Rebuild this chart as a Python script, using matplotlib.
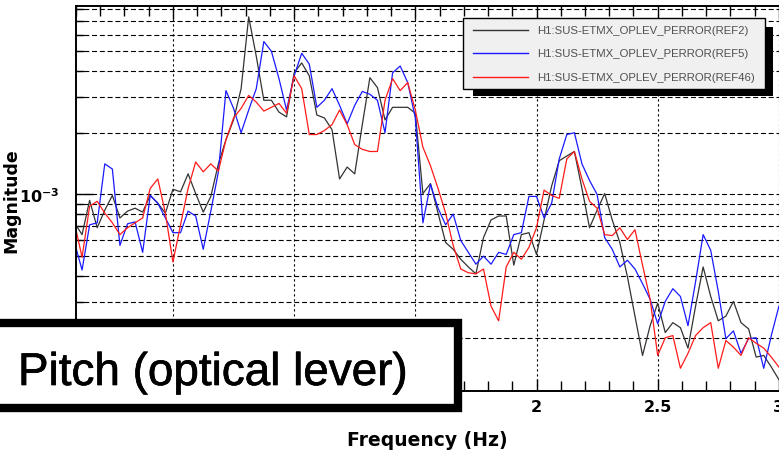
#!/usr/bin/env python3
"""Pitch (optical lever) spectrum, three reference traces, log magnitude."""

import numpy as np
import matplotlib
matplotlib.use("Agg")
import matplotlib.pyplot as plt
import matplotlib.patheffects as pe
from matplotlib.patches import Rectangle
from matplotlib.lines import Line2D
from matplotlib.ticker import MultipleLocator, LogLocator, NullFormatter

# frequency bins (1/32 Hz resolution), bins 3..96
freq = np.arange(3, 97) / 32.0

# magnitudes in units of 1e-3
ref2 = [0.727, 0.637, 0.936, 0.688, 0.838, 0.989, 0.768, 0.829, 0.857, 0.820,
        0.989, 0.906, 0.811, 1.06, 1.03, 1.26, 1.01, 0.820, 0.978, 1.41,
        1.85, 2.31, 3.28, 7.35, 4.72, 2.88, 2.88, 2.52, 2.39, 3.92,
        4.38, 3.79, 2.44, 2.36, 2.07, 1.19, 1.36, 1.26, 2.19, 3.71,
        3.32, 2.31, 2.66, 2.66, 2.66, 2.49, 1.01, 1.13, 0.811, 0.583,
        0.540, 0.483, 0.443, 0.410, 0.616, 0.751, 0.785, 0.785, 0.452, 0.637,
        0.651, 0.510, 0.751, 1.10, 1.46, 1.54, 1.62, 1.07, 0.688, 0.838,
        1.01, 0.751, 0.583, 0.397, 0.255, 0.164, 0.229, 0.295, 0.212, 0.237,
        0.224, 0.178, 0.285, 0.443, 0.318, 0.242, 0.255, 0.301, 0.237, 0.221,
        0.161, 0.164, 0.144, 0.125]

ref5 = [0.583, 0.428, 0.711, 0.727, 1.41, 1.33, 0.564, 0.719, 0.735, 0.522,
        0.989, 0.906, 0.768, 0.651, 0.651, 0.829, 0.785, 0.540, 0.829, 1.29,
        3.21, 2.63, 2.00, 2.58, 3.28, 5.57, 4.99, 3.67, 2.58, 3.79,
        4.88, 4.32, 2.66, 2.88, 3.28, 2.72, 2.21, 2.72, 3.18, 3.08,
        2.88, 2.00, 3.92, 4.23, 3.51, 2.36, 0.727, 1.12, 0.857, 0.711,
        0.802, 0.596, 0.522, 0.457, 0.500, 0.457, 0.522, 0.510, 0.637, 0.651,
        0.978, 0.978, 0.768, 0.906, 1.49, 1.96, 2.00, 1.41, 1.17, 1.00,
        0.616, 0.540, 0.443, 0.478, 0.433, 0.367, 0.308, 0.234, 0.301, 0.347,
        0.318, 0.229, 0.375, 0.637, 0.534, 0.336, 0.198, 0.216, 0.168, 0.198,
        0.200, 0.142, 0.205, 0.285]

ref46 = [0.727, 0.494, 0.876, 0.926, 0.811, 0.727, 0.637, 0.688, 0.727, 0.768,
         1.07, 1.19, 0.811, 0.468, 0.711, 1.07, 1.44, 1.29, 1.41, 1.30,
         1.85, 2.36, 2.63, 3.04, 2.82, 2.55, 2.66, 2.78, 2.49, 3.79,
         3.28, 1.96, 1.96, 2.05, 2.19, 2.58, 2.19, 1.75, 1.66, 1.62,
         1.62, 2.88, 3.67, 3.21, 3.51, 2.58, 1.70, 1.38, 1.07, 0.811,
         0.564, 0.433, 0.415, 0.410, 0.433, 0.285, 0.242, 0.443, 0.522, 0.483,
         0.552, 0.688, 1.05, 0.989, 0.957, 1.49, 1.62, 1.19, 0.926, 0.857,
         0.637, 0.630, 0.688, 0.603, 0.673, 0.452, 0.308, 0.164, 0.200, 0.205,
         0.142, 0.168, 0.205, 0.224, 0.237, 0.142, 0.194, 0.180, 0.164, 0.200,
         0.188, 0.178, 0.161, 0.144]

labels = ["H1:SUS-ETMX_OPLEV_PERROR(REF2)",
          "H1:SUS-ETMX_OPLEV_PERROR(REF5)",
          "H1:SUS-ETMX_OPLEV_PERROR(REF46)"]
colors = ["#333333", "#1a1aff", "#ff1a1a"]
series = [ref2, ref5, ref46]

x_ticks = [0.5, 1, 1.5, 2, 2.5, 3]
x_ticklabels = ["0.5", "1", "1.5", "2", "2.5", "3"]

W, H = 779, 452
fig = plt.figure(figsize=(W / 100, H / 100), dpi=100)
ax = fig.add_axes([76 / W, (H - 392) / H, 715 / W, 385 / H])

for vals, c, lab in zip(series, colors, labels):
    ax.plot(freq, np.array(vals) * 1e-3, color=c, lw=0.9, label=lab)

ax.set_yscale("log")
ax.set_xlim(0.1, 3.05)
ax.set_ylim(1.10e-4, 8.3e-3)

ax.xaxis.set_major_locator(MultipleLocator(0.5))
ax.xaxis.set_minor_locator(MultipleLocator(0.1))
ax.set_xticks(x_ticks)
ax.set_xticklabels(x_ticklabels)
ax.set_yticks([1e-3])
ax.set_yticklabels([r"$\mathbf{10^{-3}}$"])
ax.yaxis.set_minor_locator(LogLocator(base=10, subs=np.arange(2, 10)))
ax.yaxis.set_minor_formatter(NullFormatter())

for lbl in ax.get_xticklabels() + ax.get_yticklabels():
    lbl.set_fontweight("bold")
    lbl.set_fontsize(11.5)

ax.tick_params(axis="x", which="both", direction="in", top=True, bottom=True,
               pad=6, width=1)
ax.tick_params(axis="x", which="major", length=9)
ax.tick_params(axis="x", which="minor", length=7)
ax.tick_params(axis="y", which="both", direction="in", left=True, right=False,
               width=1)
ax.tick_params(axis="y", which="major", length=12, pad=12)
ax.tick_params(axis="y", which="minor", length=6)

ax.grid(True, which="both", axis="y", color="black", lw=0.8,
        linestyle=(0, (4.5, 2.5)))
ax.grid(True, which="major", axis="x", color="black", lw=0.8,
        linestyle=(0, (2, 2.5)))

for s in ax.spines.values():
    s.set_linewidth(1.4)

ax.set_xlabel("Frequency (Hz)", fontsize=13.5, fontweight="bold")
ax.xaxis.set_label_coords(0.492, -0.102)
ax.set_ylabel("Magnitude", fontsize=12.5, fontweight="bold")
ax.yaxis.set_label_coords(-0.078, 0.496)

# legend box with hard black shadow
def px(x, y):
    return x / W, 1 - y / H

fig.add_artist(Rectangle(px(473, 97), 300 / W, 69 / H, transform=fig.transFigure,
                         facecolor="black", edgecolor="none", zorder=5))
fig.add_artist(Rectangle(px(463, 90), 302 / W, 71 / H, transform=fig.transFigure,
                         facecolor="#f0f0f0", edgecolor="black", lw=1, zorder=6))
for i, (c, lab) in enumerate(zip(colors, labels)):
    yy = [31, 54, 78][i]
    x0, y0 = px(473, yy)
    x1, _ = px(528, yy)
    fig.add_artist(Line2D([x0, x1], [y0, y0], transform=fig.transFigure,
                          color=c, lw=1.0, zorder=7))
    fig.text(537 / W, y0, lab, fontsize=8.2, family="Liberation Sans",
             color="#505050", va="center", ha="left", zorder=7)

# title box in lower-left corner
fig.add_artist(Rectangle(px(-20, 409), 478 / W, 85 / H, transform=fig.transFigure,
                         facecolor="white", edgecolor="black", lw=6, zorder=8))
fig.text(18 / W, 1 - 386 / H, "Pitch (optical lever)", fontsize=33,
         family="Liberation Sans", color="black", va="baseline", ha="left",
         zorder=9, path_effects=[pe.withStroke(linewidth=0.5, foreground="black")])

fig.savefig("out.png", dpi=100)
